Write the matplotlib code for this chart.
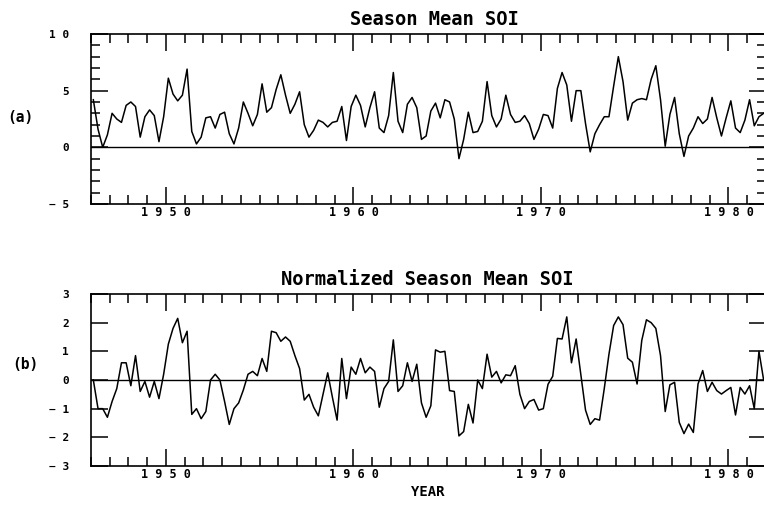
import matplotlib.pyplot as plt
from matplotlib.ticker import MultipleLocator

# indice SOI medio por estacao (4 estacoes por ano), 1946 a 1981

ano_inicio = 1946
estacoes_por_ano = 4

soi = [4.2, 1.6, 0.0, 1.1, 3.0, 2.5, 2.2, 3.7, 4.0, 3.6,
       0.9, 2.7, 3.3, 2.8, 0.5, 2.7, 6.1, 4.7, 4.1, 4.6,
       6.9, 1.4, 0.3, 0.9, 2.6, 2.7, 1.7, 2.9, 3.1, 1.2,
       0.3, 1.7, 4.0, 3.0, 1.9, 2.9,
       5.6, 3.1, 3.5, 5.1, 6.4, 4.6, 3.0, 3.8, 4.9, 2.0,
       0.9, 1.5, 2.4, 2.2, 1.8, 2.2, 2.3, 3.6, 0.6, 3.6,
       4.6, 3.7, 1.8, 3.5, 4.9, 1.7, 1.3, 2.8, 6.6, 2.3,
       1.3, 3.8, 4.4, 3.5, 0.7, 1.0, 3.2,
       3.9, 2.6, 4.2, 4.0, 2.5, -1.0, 0.7, 3.1, 1.3, 1.4,
       2.3, 5.8, 2.8, 1.8, 2.5, 4.6, 2.9, 2.2, 2.3, 2.8,
       2.1, 0.7, 1.6, 2.9, 2.8, 1.7, 5.2, 6.6, 5.5, 2.3,
       5.0, 5.0, 2.1, -0.4,
       1.2, 2.0, 2.7, 2.7, 5.4, 8.0, 5.8, 2.4, 3.9, 4.2,
       4.3, 4.2, 6.0, 7.2, 4.2, 0.1, 2.9, 4.4, 1.2, -0.8,
       1.0, 1.7, 2.7, 2.1, 2.5, 4.4, 2.6, 1.0, 2.6, 4.1,
       1.7, 1.3, 2.4, 4.2, 1.9, 2.7, 3.0]

soi_normalizado = [0.0, -1.0, -1.0, -1.3, -0.75, -0.3, 0.6, 0.6, -0.2, 0.85,
                   -0.4, -0.05, -0.6, -0.05, -0.65, 0.2, 1.25, 1.8, 2.15, 1.3,
                   1.7, -1.2, -1.0, -1.35, -1.1, 0.0, 0.2, 0.0, -0.75, -1.55,
                   -1.0, -0.8, -0.35, 0.2, 0.3, 0.15, 0.75,
                   0.3, 1.7, 1.65, 1.35, 1.5, 1.35, 0.85, 0.4, -0.7, -0.5,
                   -0.95, -1.25, -0.5, 0.25, -0.6, -1.4, 0.75, -0.65, 0.45, 0.2,
                   0.75, 0.25, 0.45, 0.3, -0.95, -0.3, -0.05, 1.4, -0.4, -0.2,
                   0.6, -0.05, 0.55, -0.8, -1.3, -0.9,
                   1.05, 0.97, 1.0, -0.37, -0.4, -1.95, -1.8, -0.85, -1.5, 0.0,
                   -0.3, 0.9, 0.1, 0.3, -0.1, 0.18, 0.15, 0.5, -0.5, -1.0,
                   -0.75, -0.68, -1.05, -1.0, -0.15, 0.13, 1.45, 1.43, 2.2, 0.6,
                   1.43, 0.2, -1.05, -1.55, -1.35,
                   -1.4, -0.3, 0.9, 1.9, 2.2, 1.93, 0.76, 0.62, -0.14, 1.38,
                   2.1, 2.0, 1.8, 0.85, -1.1, -0.17, -0.08, -1.48, -1.87, -1.54,
                   -1.83, -0.14, 0.33, -0.4, -0.08, -0.37, -0.49, -0.37, -0.26, -1.22,
                   -0.26, -0.49, -0.2, -1.0, 1.0, 0.0]

decadas = [1950, 1960, 1970, 1980]
rotulos_decadas = ['1 9 5 0', '1 9 6 0', '1 9 7 0', '1 9 8 0']

ticks_a = [-5, 0, 5, 10]
rotulos_a = ['\u2212 5', '0', '5', '1 0']
ticks_b = [-3, -2, -1, 0, 1, 2, 3]
rotulos_b = ['\u2212 3', '\u2212 2', '\u2212 1', '0', '1', '2', '3']

# tempo no meio de cada estacao
anos = [ano_inicio + (i + 0.5) / estacoes_por_ano for i in range(len(soi))]

plt.rcParams['font.family'] = 'DejaVu Sans Mono'
plt.rcParams['font.weight'] = 'bold'

fig = plt.figure(figsize=(7.64, 5.22), dpi=100)
# o eixo da direita fica um pouco para fora da figura, como no original
ax1 = fig.add_axes([0.1191, 0.6092, 0.8835, 0.3257])
ax2 = fig.add_axes([0.1191, 0.1073, 0.8835, 0.3295])


def formata_eixo(ax, yticks, ylabels, ymenor):
    ax.set_xlim(1946, 1982)
    ax.set_xticks(decadas, labels=rotulos_decadas)
    ax.xaxis.set_minor_locator(MultipleLocator(1))
    ax.set_yticks(yticks, labels=ylabels)
    if ymenor:
        ax.yaxis.set_minor_locator(MultipleLocator(1))
    ax.set_ylim(yticks[0], yticks[-1])
    ax.tick_params(which='major', direction='in', length=12.5, width=1.1,
                   top=True, right=True, labelsize=8)
    ax.tick_params(which='minor', direction='in', length=6.5, width=1.1,
                   top=True, right=True)
    ax.tick_params(axis='x', which='major', pad=1.5, labelsize=8.5)
    ax.tick_params(axis='y', which='major', pad=16)
    for s in ax.spines.values():
        s.set_linewidth(1.2)
    ax.axhline(0, color='black', linewidth=1.0)


# (a) season mean SOI
ax1.plot(anos, soi, color='black', linewidth=1.1)
formata_eixo(ax1, ticks_a, rotulos_a, True)

# (b) normalized
ax2.plot(anos, soi_normalizado, color='black', linewidth=1.1)
formata_eixo(ax2, ticks_b, rotulos_b, False)

fig.text(0.568, 0.9617, 'Season Mean SOI', ha='center', va='center', fontsize=13.5, weight='bold')
fig.text(0.559, 0.4655, 'Normalized Season Mean SOI', ha='center', va='center', fontsize=13.5, weight='bold')
fig.text(0.027, 0.775, '(a)', ha='center', va='center', fontsize=10.5, weight='bold')
fig.text(0.033, 0.301, '(b)', ha='center', va='center', fontsize=10.5, weight='bold')
fig.text(0.560, 0.0575, 'YEAR', ha='center', va='center', fontsize=10, weight='bold')

plt.savefig('out.png', dpi=100)
